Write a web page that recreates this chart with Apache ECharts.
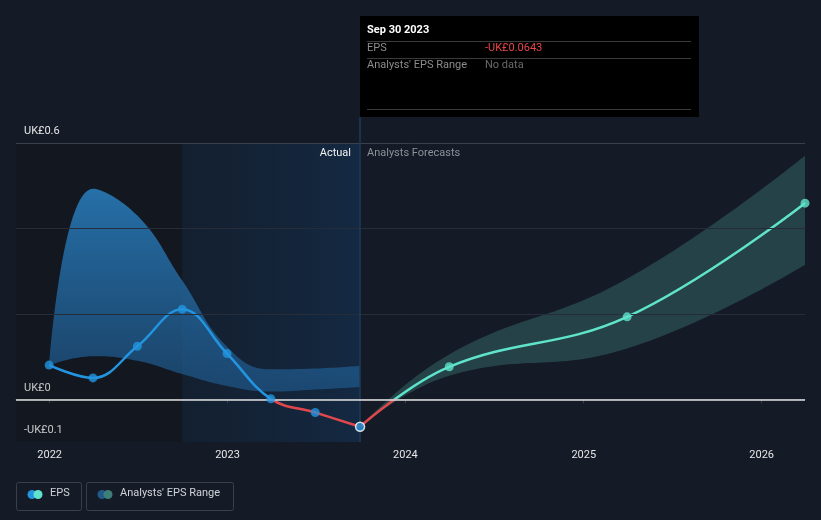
<!DOCTYPE html>
<html>
<head>
<meta charset="utf-8">
<script src="https://cdn.jsdelivr.net/npm/echarts@6/dist/echarts.min.js"></script>
<style>
html,body{margin:0;padding:0;background:#151b26;}
#c{width:821px;height:520px;}
</style>
</head>
<body>
<div id="c"></div>
<script>
// ---- data ----
var actualDates = ['2021-12-31','2022-03-31','2022-06-30','2022-09-30','2022-12-31','2023-03-31','2023-06-30','2023-09-30'];
var actualEps   = [0.080, 0.050, 0.124, 0.211, 0.107, 0.001, -0.031, -0.0643];
var actualLow   = [0.080, 0.101, 0.090, 0.059, 0.031, 0.018, 0.023, 0.029];
var actualHigh  = [0.080, 0.493, 0.430, 0.278, 0.123, 0.070, 0.072, 0.078];

var forecastDates = ['2023-09-30','2024-03-31','2025-03-31','2026-03-31'];
var forecastEps   = [-0.0643, 0.076, 0.193, 0.459];
var forecastLow   = [-0.0643, 0.055, 0.119, 0.315];
var forecastHigh  = [-0.0643, 0.105, 0.282, 0.570];

var yearTicks = ['2022-01-01','2023-01-01','2024-01-01','2025-01-01','2026-01-01'];
var yTickValues = [-0.1, 0, 0.6];
var axisStart = '2021-10-24';
var axisEnd = '2026-03-31';
var highlightStart = '2022-09-30';
var todayDate = '2023-09-30';

// ---- helpers ----
function ts(s){ var p = s.split('-'); return Date.UTC(+p[0], +p[1]-1, +p[2]); }
function pairs(dates, vals){ return dates.map(function(d,i){ return [ts(d), vals[i]]; }); }
function diffs(dates, lo, hi){ return dates.map(function(d,i){ return [ts(d), +(hi[i]-lo[i]).toFixed(4)]; }); }
function fmt(v){ return (v<0?'-':'') + 'UK£' + Math.abs(v); }

var chart = echarts.init(document.getElementById('c'), null, {renderer:'canvas'});
var FONT = 'Roboto, "Noto Sans", sans-serif';
var BLUE = '#2394df', TEAL = '#5fe3cb', RED = '#e0474c';

function signGradient(pos, neg, y0){
  var f = Math.max(0, Math.min(1, y0/520));
  return {type:'linear', x:0, y:0, x2:0, y2:520, global:true, colorStops:[
    {offset:0, color:pos},{offset:f, color:pos},{offset:f, color:neg},{offset:1, color:neg}]};
}
var tickTs = yearTicks.map(ts);

var option = {
  backgroundColor: '#151b26',
  animation: false,
  grid: {left: 16, right: 16, top: 117, bottom: 78},
  xAxis: [{
    type: 'value', min: ts(axisStart), max: ts(axisEnd),
    splitLine: {show:false},
    axisLine: {show:true, lineStyle:{color:'#3c424c', width:1}},
    axisTick: {show:true, customValues: tickTs, length:4, lineStyle:{color:'#3c424c'}},
    axisLabel: {customValues: tickTs, color:'#e6e6e6', fontSize:11, fontFamily:FONT, margin:8,
      formatter: function(v){ return String(new Date(+v + 864e5).getUTCFullYear()); }}
  }, {
    type: 'time', min: ts(axisStart), max: ts(axisEnd), show:false
  }],
  yAxis: {
    type: 'value', min: -0.1, max: 0.6607,
    splitLine: {show:false}, axisLine:{show:false}, axisTick:{show:false},
    axisLabel: {inside:true, customValues: yTickValues, color:'#e6e6e6', fontSize:11, fontFamily:FONT,
      margin: 8, verticalAlign:'bottom', padding:[0,0,6,0], formatter: function(v){ return fmt(+v.toFixed(2)); }}
  },
  series: [
    // background areas and reference lines
    {type:'line', name:'bg', data: [], silent:true, symbol:'none',
      markArea: {silent:true, data:[
        [{xAxis:ts(axisStart), yAxis:0.6, itemStyle:{color:'rgba(0,0,0,0.14)'}}, {xAxis: ts(highlightStart), yAxis:-0.1}],
        [{xAxis:ts(highlightStart), yAxis:0.6, itemStyle:{color:{type:'linear',x:0,y:0,x2:1,y2:0,colorStops:[
            {offset:0,color:'rgba(15,45,75,0.26)'},{offset:1,color:'rgba(18,60,105,0.42)'}]}}},
         {xAxis: ts(todayDate), yAxis:-0.1}]
      ]},
      markLine: {silent:true, symbol:'none', label:{show:false}, data:[
        {yAxis:0.2, lineStyle:{color:'#272d38', width:1, type:'solid'}},
        {yAxis:0.4, lineStyle:{color:'#272d38', width:1, type:'solid'}},
        {yAxis:0.6, lineStyle:{color:'#3a404b', width:1, type:'solid'}},
        {xAxis:ts(todayDate), lineStyle:{color:'#1d3b58', width:1.5, type:'solid'}}
      ]}
    },
    // actual range band (lower + diff)
    {type:'line', name:'aLow', xAxisIndex:1, data: pairs(actualDates, actualLow), stack:'a', smooth:0.45,
      symbol:'none', lineStyle:{width:0, opacity:0}, silent:true},
    {type:'line', name:'aRange', xAxisIndex:1, data: diffs(actualDates, actualLow, actualHigh), stack:'a', smooth:0.45,
      symbol:'none', lineStyle:{width:0, opacity:0}, silent:true,
      areaStyle:{opacity:1, color:{type:'linear',x:0,y:0,x2:0,y2:1,colorStops:[
        {offset:0,color:'rgba(38,112,168,1)'},{offset:1,color:'rgba(32,95,150,0.6)'}]}}
    },
    // forecast range band
    {type:'line', name:'fLow', xAxisIndex:1, data: pairs(forecastDates, forecastLow), stack:'f', stackStrategy:'all', smooth:0.45,
      symbol:'none', lineStyle:{width:0, opacity:0}, silent:true},
    {type:'line', name:'fRange', xAxisIndex:1, data: diffs(forecastDates, forecastLow, forecastHigh), stack:'f', stackStrategy:'all', smooth:0.45,
      symbol:'none', lineStyle:{width:0, opacity:0}, silent:true,
      areaStyle:{opacity:1, color:'rgba(72,160,150,0.3)'},
      markLine: {silent:true, symbol:'none', label:{show:false}, data:[
        {yAxis:0, lineStyle:{color:'#e2e2e2', width:1.5, type:'solid'}}
      ]}
    },
    // EPS lines
    {type:'line', id:'epsA', name:'EPS', data: pairs(actualDates, actualEps), smooth:0.4, showSymbol:false,
      lineStyle:{width:2.5, color:BLUE}, z:3},
    {type:'line', id:'epsF', name:'EPSf', data: pairs(forecastDates, forecastEps), smooth:0.4, showSymbol:false,
      lineStyle:{width:2.5, color:TEAL}, z:3},
    // points
    {type:'scatter', data: pairs(actualDates, actualEps).slice(0, actualDates.length-1), symbolSize:9,
      itemStyle:{color:BLUE}, silent:true, z:5},
    {type:'scatter', data: pairs(forecastDates, forecastEps).slice(1), symbolSize:9,
      itemStyle:{color:TEAL}, silent:true, z:5},
    {type:'scatter', data: pairs(actualDates, actualEps).slice(actualDates.length-1), symbolSize:9,
      itemStyle:{color:BLUE, borderColor:'#ffffff', borderWidth:1.5}, silent:true, z:6}
  ],
  graphic: [
    {type:'text', z:100, x:351, y:148, style:{text:'Actual', fill:'#f2f2f2', font:'11px '+FONT, align:'right'}},
    {type:'text', z:100, x:367, y:148, style:{text:'Analysts Forecasts', fill:'#8c9199', font:'11px '+FONT}},
    // tooltip box
    {type:'rect', z:100, shape:{x:360, y:16, width:339, height:101}, style:{fill:'#000000'}},
    {type:'text', z:101, x:367, y:25, style:{text:'Sep 30 2023', fill:'#ffffff', font:'bold 11px '+FONT}},
    {type:'line', z:101, shape:{x1:367, y1:41.5, x2:691, y2:41.5}, style:{stroke:'#3a3a3a', lineWidth:1}},
    {type:'text', z:101, x:367, y:43, style:{text:'EPS', fill:'#8c8c8c', font:'11px '+FONT}},
    {type:'text', z:101, x:485, y:43, style:{text:fmt(actualEps[actualEps.length-1]), fill:'#e8454a', font:'11px '+FONT}},
    {type:'line', z:101, shape:{x1:367, y1:58.5, x2:691, y2:58.5}, style:{stroke:'#3a3a3a', lineWidth:1}},
    {type:'text', z:101, x:367, y:60, style:{text:"Analysts' EPS Range", fill:'#8c8c8c', font:'11px '+FONT}},
    {type:'text', z:101, x:485, y:60, style:{text:'No data', fill:'#6a6a6a', font:'11px '+FONT}},
    {type:'line', z:101, shape:{x1:367, y1:109.5, x2:691, y2:109.5}, style:{stroke:'#3a3a3a', lineWidth:1}},
    // legend
    {type:'rect', shape:{x:16.5, y:482.5, width:65, height:28, r:2}, style:{fill:'none', stroke:'#3a404a', lineWidth:1}},
    {type:'circle', shape:{cx:32, cy:494.5, r:4.5}, style:{fill:BLUE}},
    {type:'circle', shape:{cx:38, cy:494.5, r:4.5}, style:{fill:TEAL}},
    {type:'text', x:50, y:488, style:{text:'EPS', fill:'#d0d3d8', font:'11px '+FONT}},
    {type:'rect', shape:{x:86.5, y:482.5, width:147, height:28, r:2}, style:{fill:'none', stroke:'#3a404a', lineWidth:1}},
    {type:'circle', shape:{cx:102, cy:494.5, r:4.5}, style:{fill:'#1f5a8a'}},
    {type:'circle', shape:{cx:108, cy:494.5, r:4.5}, style:{fill:'#3d7f78'}},
    {type:'text', x:120, y:488, style:{text:"Analysts' EPS Range", fill:'#d0d3d8', font:'11px '+FONT}}
  ]
};
chart.setOption(option);
var y0 = chart.convertToPixel({yAxisIndex:0}, 0);
chart.setOption({series:[
  {id:'epsA', lineStyle:{color: signGradient(BLUE, RED, y0)}},
  {id:'epsF', lineStyle:{color: signGradient(TEAL, RED, y0)}}
]});
</script>
</body>
</html>
